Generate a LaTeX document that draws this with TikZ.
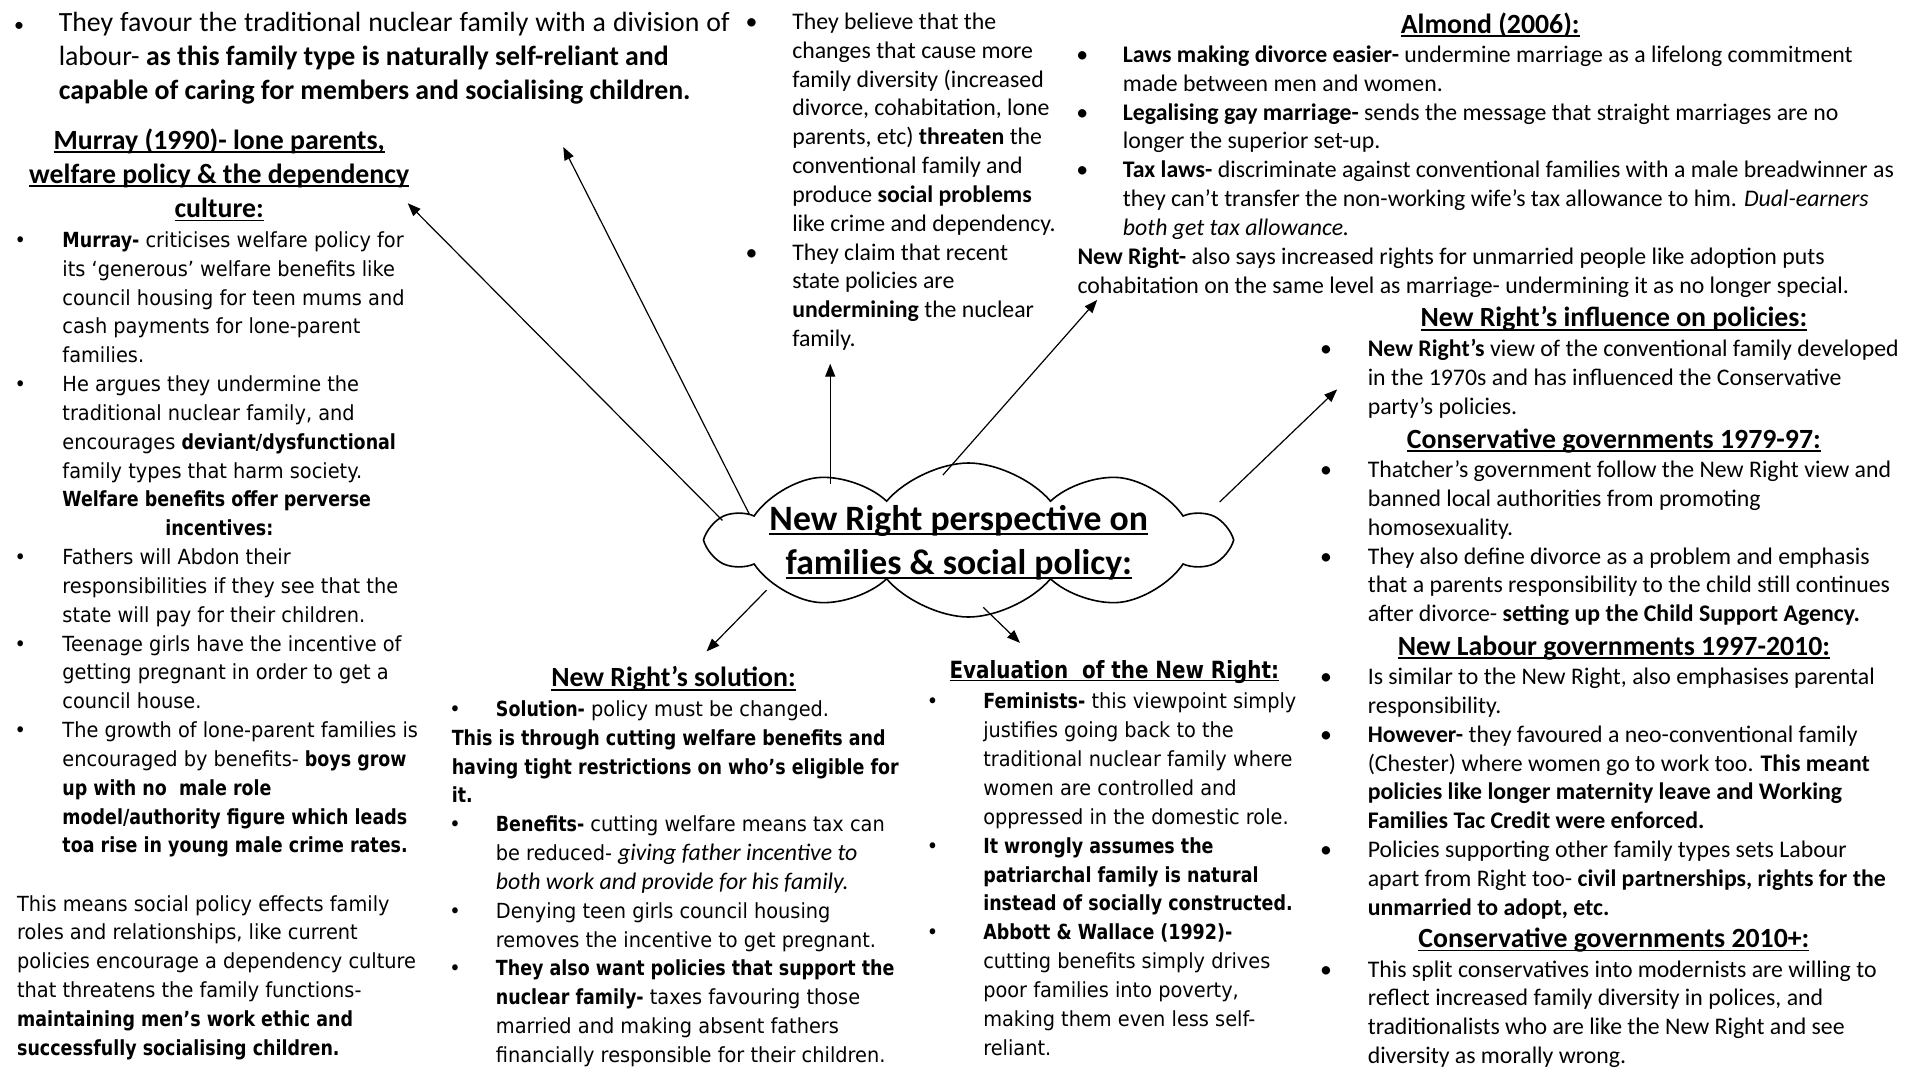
\documentclass[tikz,border=0pt]{standalone}
\usepackage{fontspec}
\setmainfont{Carlito}
\newfontfamily\tah{DejaVu Sans}[UprightFeatures={FakeStretch=0.93},BoldFeatures={FakeStretch=0.84}]
\usetikzlibrary{arrows.meta,shapes.symbols}
\newlength\bw
\newcommand\bpt{\makebox[\bw][l]{\textbullet}}
\newcommand\bptl{\makebox[\bw][l]{\hspace*{1pt}{\fontsize{10}{10}\selectfont\textbullet}}}
\newcommand\bin{\hspace*{\bw}}
\newcommand\fst{\rule{0pt}{12pt}}
\newcommand\hst{\rule{0pt}{14pt}}
\newcommand\ulin[1]{\setbox0=\hbox{#1}\rlap{\rule[-0.13em]{\wd0}{0.065em}}\box0}
\newcommand\calit[1]{{\rmfamily\fontsize{11.9}{14.42}\selectfont\itshape #1}}
\tikzset{
 blk/.style={anchor=north west, inner sep=0pt, outer sep=0pt, align=left, yshift=12pt},
 hdc/.style={anchor=north, inner sep=0pt, outer sep=0pt, align=center, yshift=14pt, font=\fontsize{13.9}{17.1}\selectfont\bfseries},
 cal/.style={font={\fontsize{11.9}{14.42}\selectfont\setlength\bw{#1}}},
 tahs/.style={font={\tah\fontsize{10.4}{14.42}\selectfont\setlength\bw{#1}}},
 arr/.style={-{Triangle[length=6.5pt,width=5pt]}, line width=0.6pt},
}
\begin{document}
\begin{tikzpicture}[x=0.61224pt, y=-0.61224pt]
\useasboundingbox (0,0) rectangle (1568,882);
\fill[white] (0,0) rectangle (1568,882);

% top-left bullet
\node[blk, font={\fontsize{13.9}{16.84}\selectfont\setlength\bw{23.27pt}}] (tl) at (10,26) {\fst\bptl\makebox[335.5pt][s]{They favour the traditional nuclear family with a division of}\\
\bin labour- \textbf{as this family type is naturally self-reliant and}\\
\bin\textbf{capable of caring for members and socialising children.}};

% Murray
\node[hdc] (mh) at (179,122) {\hst\ulin{Murray (1990)- lone parents,}\\\ulin{welfare policy \& the dependency}\\\ulin{culture:}};
\node[blk, tahs=23.88pt] (mb) at (12,202) {\fst\bpt\textbf{Murray-} criticises welfare policy for\\
\bin its ‘generous’ welfare benefits like\\
\bin council housing for teen mums and\\
\bin cash payments for lone-parent\\
\bin families.\\
\bpt He argues they undermine the\\
\bin traditional nuclear family, and\\
\bin encourages \textbf{deviant/dysfunctional}\\
\bin family types that harm society.\\
\bin\textbf{Welfare benefits offer perverse}\\
\hspace*{75.3pt}\textbf{incentives:}\\
\bpt Fathers will Abdon their\\
\bin responsibilities if they see that the\\
\bin state will pay for their children.\\
\bpt Teenage girls have the incentive of\\
\bin getting pregnant in order to get a\\
\bin council house.\\
\bpt The growth of lone-parent families is\\
\bin encouraged by benefits- \textbf{boys grow}\\
\bin\textbf{up with no\ \ male role}\\
\bin\textbf{model/authority figure which leads}\\
\bin\textbf{toa rise in young male crime rates.}};
\node[blk, tahs=0pt] (tm) at (14,744) {\fst This means social policy effects family\\
roles and relationships, like current\\
policies encourage a dependency culture\\
that threatens the family functions-\\
\textbf{maintaining men’s work ethic and}\\
\textbf{successfully socialising children.}};

% middle top
\node[blk, cal=23.27pt] (mt) at (609,24) {\fst\bpt They believe that the\\
\bin changes that cause more\\
\bin family diversity (increased\\
\bin divorce, cohabitation, lone\\
\bin parents, etc) \textbf{threaten} the\\
\bin conventional family and\\
\bin produce \textbf{social problems}\\
\bin like crime and dependency.\\
\bpt They claim that recent\\
\bin state policies are\\
\bin\textbf{undermining} the nuclear\\
\bin family.};

% Almond
\node[hdc] (ah) at (1217,27) {\hst\ulin{Almond (2006):}};
\node[blk, cal=23.27pt] (ab) at (879,51) {\fst\bpt\textbf{Laws making divorce easier-} undermine marriage as a lifelong commitment\\
\bin made between men and women.\\
\bpt\textbf{Legalising gay marriage-} sends the message that straight marriages are no\\
\bin longer the superior set-up.\\
\bpt\textbf{Tax laws-} discriminate against conventional families with a male breadwinner as\\
\bin they can’t transfer the non-working wife’s tax allowance to him. \textit{Dual-earners}\\
\bin\textit{both get tax allowance.}\\
\hspace*{0.6pt}\textbf{New Right-} also says increased rights for unmarried people like adoption puts\\
\hspace*{0.6pt}cohabitation on the same level as marriage- undermining it as no longer special.};

% right column
\node[hdc] (rh1) at (1318,267) {\hst\ulin{New Right’s influence on policies:}};
\node[blk, cal=23.88pt] (rb1) at (1078,291) {\fst\bpt\textbf{New Right’s} view of the conventional family developed\\
\bin in the 1970s and has influenced the Conservative\\
\bin party’s policies.};
\node[hdc] (rh2) at (1318,366) {\hst\ulin{Conservative governments 1979-97:}};
\node[blk, cal=23.88pt] (rb2) at (1078,390) {\fst\bpt Thatcher’s government follow the New Right view and\\
\bin banned local authorities from promoting\\
\bin homosexuality.\\
\bpt They also define divorce as a problem and emphasis\\
\bin that a parents responsibility to the child still continues\\
\bin after divorce- \textbf{setting up the Child Support Agency.}};
\node[hdc] (rh3) at (1318,535) {\hst\ulin{New Labour governments 1997-2010:}};
\node[blk, cal=23.88pt] (rb3) at (1078,559) {\fst\bpt Is similar to the New Right, also emphasises parental\\
\bin responsibility.\\
\bpt\textbf{However-} they favoured a neo-conventional family\\
\bin (Chester) where women go to work too. \textbf{This meant}\\
\bin\textbf{policies like longer maternity leave and Working}\\
\bin\textbf{Families Tac Credit were enforced.}\\
\bpt Policies supporting other family types sets Labour\\
\bin apart from Right too- \textbf{civil partnerships, rights for the}\\
\bin\textbf{unmarried to adopt, etc.}};
\node[hdc] (rh4) at (1318,774) {\hst\ulin{Conservative governments 2010+:}};
\node[blk, cal=23.88pt] (rb4) at (1078,798) {\fst\bpt This split conservatives into modernists are willing to\\
\bin reflect increased family diversity in polices, and\\
\bin traditionalists who are like the New Right and see\\
\bin diversity as morally wrong.};

% solution
\node[hdc] (sh) at (550,561) {\hst\ulin{New Right’s solution:}};
\node[blk, tahs=23.27pt] (sb) at (367,585) {\fst\bpt\textbf{Solution-} policy must be changed.\\
\hspace*{1.2pt}\textbf{This is through cutting welfare benefits and}\\
\hspace*{1.2pt}\textbf{having tight restrictions on who’s eligible for}\\
\hspace*{1.2pt}\textbf{it.}\\
\bpt\textbf{Benefits-} cutting welfare means tax can\\
\bin be reduced- \calit{giving father incentive to}\\
\bin\calit{both work and provide for his family.}\\
\bpt Denying teen girls council housing\\
\bin removes the incentive to get pregnant.\\
\bpt\textbf{They also want policies that support the}\\
\bin\textbf{nuclear family-} taxes favouring those\\
\bin married and making absent fathers\\
\bin financially responsible for their children.};

% evaluation
\node[hdc, font=\tah\fontsize{11.85}{14}\selectfont\bfseries] (eh) at (910,554) {\hst\ulin{Evaluation\ \ of the New Right:}};
\node[blk, tahs=28.16pt] (eb) at (757,579) {\fst\bpt\textbf{Feminists-} this viewpoint simply\\
\bin justifies going back to the\\
\bin traditional nuclear family where\\
\bin women are controlled and\\
\bin oppressed in the domestic role.\\
\bpt\textbf{It wrongly assumes the}\\
\bin\textbf{patriarchal family is natural}\\
\bin\textbf{instead of socially constructed.}\\
\bpt\textbf{Abbott \& Wallace (1992)-}\\
\bin cutting benefits simply drives\\
\bin poor families into poverty,\\
\bin making them even less self-\\
\bin reliant.};

% cloud
\node[cloud, draw, line width=0.8pt, cloud puffs=10, cloud puff arc=100, cloud ignores aspect, minimum width=258pt, minimum height=77pt, inner sep=0pt] (cl) at (791,441) {};
\node[anchor=north, inner sep=0pt, align=center, yshift=17pt, font=\fontsize{17.85}{22}\selectfont\bfseries] (ct) at (783,433) {\rule{0pt}{17pt}\ulin{New Right perspective on}\\\ulin{families \& social policy:}};

% arrows
\coordinate (s1) at (590,425); \coordinate (e1) at (333,166);
\coordinate (s2) at (612,420); \coordinate (e2) at (460,120);
\coordinate (s3) at (678,395); \coordinate (e3) at (678,297);
\coordinate (s4) at (770,388); \coordinate (e4) at (896,245);
\coordinate (s5) at (996,410); \coordinate (e5) at (1092,318);
\coordinate (s6) at (626,482); \coordinate (e6) at (577,532);
\coordinate (s7) at (803,496); \coordinate (e7) at (833,525);
\foreach \i in {1,...,7} {\draw[arr] (s\i) -- (e\i);}
\end{tikzpicture}
\end{document}
